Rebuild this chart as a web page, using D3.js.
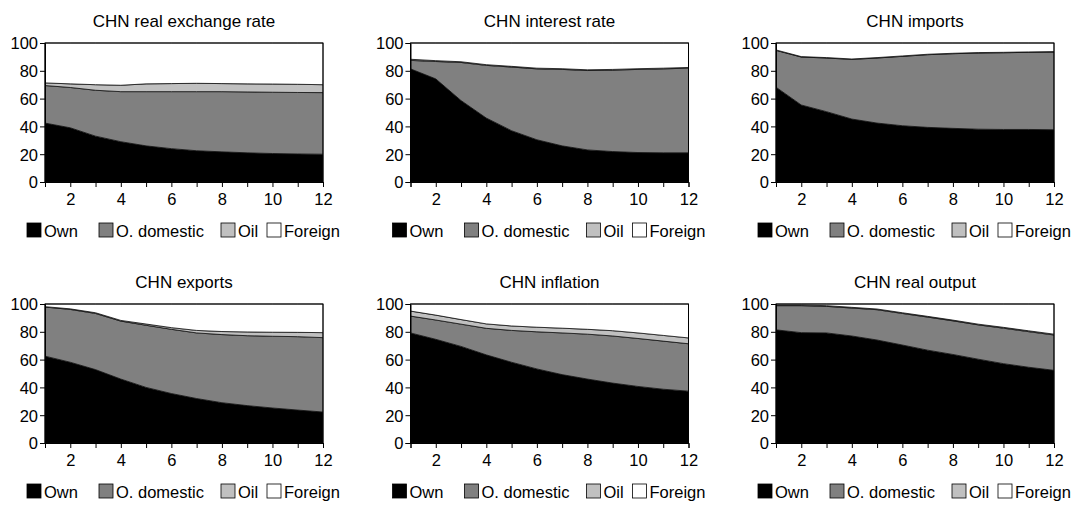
<!DOCTYPE html>
<html>
<head>
<meta charset="utf-8">
<script src="https://d3js.org/d3.v7.min.js"></script>
<style>
  body { margin: 0; background: #fff; }
  svg text { font-family: "Liberation Sans", Arial, sans-serif; fill: #000; }
</style>
</head>
<body>
<script>
// horizons
const horizons = [1, 2, 3, 4, 5, 6, 7, 8, 9, 10, 11, 12];
const keys = ["own", "odom", "oil", "foreign"];
const keyLabels = ["Own", "O. domestic", "Oil", "Foreign"];
const keyColors = ["#000000", "#808080", "#c0c0c0", "#ffffff"];

// variance shares (percent) per panel
const rerOwn     = [42.4, 39.0, 33.0, 29.0, 26.0, 24.0, 22.5, 21.7, 21.0, 20.5, 20.2, 20.0];
const rerOdom    = [27.0, 29.0, 33.0, 36.0, 39.0, 41.0, 42.5, 43.3, 43.8, 44.1, 44.2, 44.3];
const rerOil     = [1.9, 2.6, 4.0, 4.6, 5.6, 5.8, 6.0, 5.8, 5.8, 5.9, 5.9, 5.7];
const rerForeign = [28.7, 29.4, 30.0, 30.4, 29.4, 29.2, 29.0, 29.2, 29.4, 29.5, 29.7, 30.0];

const irOwn     = [81.4, 74.2, 58.6, 46.0, 36.9, 30.4, 26.0, 23.1, 21.9, 21.2, 21.0, 21.0];
const irOdom    = [6.1, 12.5, 27.4, 37.9, 45.8, 51.0, 55.0, 57.1, 58.6, 59.8, 60.4, 60.9];
const irOil     = [0.8, 0.6, 0.5, 0.5, 0.5, 0.5, 0.5, 0.5, 0.5, 0.5, 0.5, 0.5];
const irForeign = [11.7, 12.7, 13.5, 15.6, 16.8, 18.1, 18.5, 19.3, 19.0, 18.5, 18.1, 17.6];

const impOwn     = [68.2, 55.4, 50.6, 45.3, 42.4, 40.5, 39.3, 38.6, 38.0, 37.8, 37.8, 37.6];
const impOdom    = [26.5, 34.5, 38.6, 42.9, 46.8, 49.9, 52.3, 53.7, 54.8, 55.2, 55.5, 55.9];
const impOil     = [0.3, 0.3, 0.3, 0.3, 0.3, 0.3, 0.3, 0.3, 0.3, 0.3, 0.3, 0.3];
const impForeign = [5.0, 9.8, 10.5, 11.5, 10.5, 9.3, 8.1, 7.4, 6.9, 6.7, 6.4, 6.2];

const expOwn     = [62.5, 58.1, 52.8, 46.0, 40.0, 35.6, 32.0, 29.0, 26.9, 25.2, 23.7, 22.3];
const expOdom    = [35.3, 38.0, 40.4, 41.7, 44.7, 46.2, 47.2, 49.0, 50.3, 51.6, 52.8, 53.5];
const expOil     = [0.3, 0.4, 0.5, 0.5, 0.9, 1.2, 1.8, 2.2, 2.7, 2.9, 3.1, 3.6];
const expForeign = [1.9, 3.5, 6.3, 11.8, 14.4, 17.0, 19.0, 19.8, 20.1, 20.3, 20.4, 20.6];

const infOwn     = [79.2, 74.6, 69.5, 63.4, 58.1, 53.3, 49.2, 46.0, 43.1, 40.7, 38.7, 37.3];
const infOdom    = [12.1, 13.9, 16.0, 19.1, 22.9, 26.7, 30.0, 32.3, 33.9, 34.5, 34.6, 34.1];
const infOil     = [3.6, 3.5, 3.3, 3.2, 3.2, 3.3, 3.4, 3.5, 3.8, 4.0, 4.1, 4.2];
const infForeign = [5.1, 8.0, 11.2, 14.3, 15.8, 16.7, 17.4, 18.2, 19.2, 20.8, 22.6, 24.4];

const outOwn     = [81.4, 79.4, 79.2, 77.0, 74.1, 70.5, 66.8, 63.7, 60.3, 57.1, 54.5, 52.3];
const outOdom    = [17.4, 19.4, 19.1, 20.1, 21.8, 22.7, 23.8, 24.2, 24.7, 25.5, 25.6, 25.4];
const outOil     = [0.5, 0.5, 0.5, 0.5, 0.5, 0.5, 0.5, 0.5, 0.5, 0.6, 0.6, 0.6];
const outForeign = [0.7, 0.7, 1.2, 2.4, 3.6, 6.3, 8.9, 11.6, 14.5, 16.8, 19.3, 21.7];

const panels = [
  { title: "CHN real exchange rate", series: [rerOwn, rerOdom, rerOil, rerForeign] },
  { title: "CHN interest rate",      series: [irOwn, irOdom, irOil, irForeign] },
  { title: "CHN imports",            series: [impOwn, impOdom, impOil, impForeign] },
  { title: "CHN exports",            series: [expOwn, expOdom, expOil, expForeign] },
  { title: "CHN inflation",          series: [infOwn, infOdom, infOil, infForeign] },
  { title: "CHN real output",        series: [outOwn, outOdom, outOil, outForeign] }
];

const width = 1079, height = 505;
const colX = [45, 410.5, 776];
const rowY = [43, 304];
const pw = 278, ph = 139;

const svg = d3.select("body").append("svg")
  .attr("width", width)
  .attr("height", height);

const x = d3.scaleLinear().domain([1, 12]).range([0, pw]);
const y = d3.scaleLinear().domain([0, 100]).range([ph, 0]);

const area = d3.area()
  .x(d => x(d.data.h))
  .y0(d => y(d[0]))
  .y1(d => y(d[1]));

panels.forEach((p, i) => {
  const g = svg.append("g")
    .attr("transform", `translate(${colX[i % 3]},${rowY[Math.floor(i / 3)]})`);

  const rows = horizons.map((h, j) => {
    const r = { h: h };
    keys.forEach((k, ki) => r[k] = p.series[ki][j]);
    return r;
  });
  const stacked = d3.stack().keys(keys)(rows);

  g.selectAll("path.layer")
    .data(stacked)
    .enter().append("path")
    .attr("class", "layer")
    .attr("d", area)
    .attr("fill", (d, ki) => keyColors[ki])
    .attr("stroke", "#111")
    .attr("stroke-width", 0.8)
    .attr("stroke-linejoin", "round");

  // frame
  g.append("rect")
    .attr("width", pw).attr("height", ph)
    .attr("fill", "none")
    .attr("stroke", "#000")
    .attr("stroke-width", 1);

  // title
  g.append("text")
    .attr("x", pw / 2).attr("y", -16)
    .attr("text-anchor", "middle")
    .style("font-size", "17px")
    .text(p.title);

  // axes
  const yAxis = g.append("g")
    .call(d3.axisLeft(y).tickValues([0, 20, 40, 60, 80, 100]).tickSize(5).tickPadding(2));
  yAxis.selectAll("text").style("font-size", "16.5px").attr("dy", "0.36em");

  const xAxis = g.append("g")
    .attr("transform", `translate(0,${ph})`)
    .call(d3.axisBottom(x).tickValues(horizons)
      .tickFormat(d => d % 2 === 0 ? d : "")
      .tickSize(5).tickPadding(6));
  xAxis.selectAll("text").style("font-size", "16.5px");
  g.selectAll(".domain").attr("stroke", "#000");
  g.selectAll(".tick line").attr("stroke", "#000");

  // legend
  const leg = g.append("g").attr("transform", `translate(-18,${ph + 41})`);
  const offsets = [0, 72, 194, 240];
  keyLabels.forEach((lab, ki) => {
    const it = leg.append("g").attr("transform", `translate(${offsets[ki]},0)`);
    it.append("rect")
      .attr("width", 14).attr("height", 14)
      .attr("fill", keyColors[ki])
      .attr("stroke", "#000")
      .attr("stroke-width", 0.8);
    it.append("text")
      .attr("x", 17).attr("y", 14)
      .style("font-size", "16.5px")
      .text(lab);
  });
});
</script>
</body>
</html>
